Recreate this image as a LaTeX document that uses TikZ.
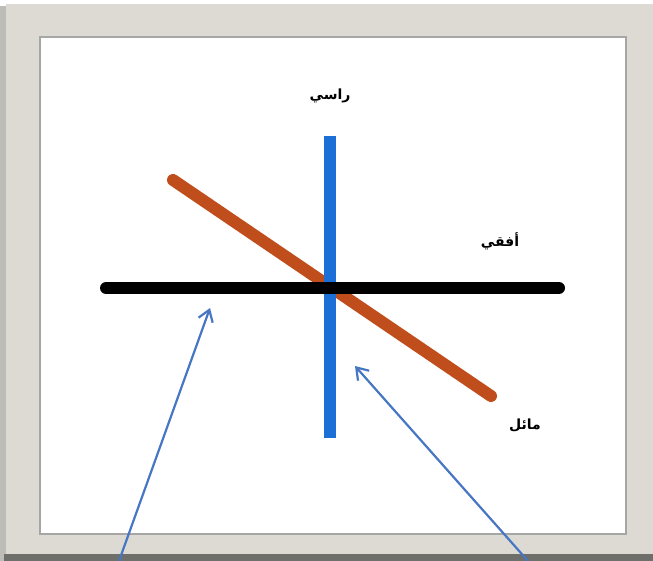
\documentclass[tikz,border=0pt]{standalone}
\usepackage{fontspec}
\usepackage{xcolor}
\usetikzlibrary{arrows.meta, positioning}
\newfontfamily\arabicfont[Script=Arabic]{DejaVu Sans}
\TeXXeTstate=1
\definecolor{framegray}{HTML}{DCDAD2}
\definecolor{frameshade}{HTML}{6E6E6A}
\definecolor{frameside}{HTML}{BDBDB8}
\definecolor{lineblue}{HTML}{1C6FD6}
\definecolor{lineorange}{HTML}{BF4E1C}
\definecolor{arrowblue}{HTML}{4676C4}

\begin{document}
\begin{tikzpicture}[x=1pt, y=-1pt,
  bar/.style={line width=12pt, line cap=round},
  lbl/.style={font=\arabicfont\bfseries\fontsize{14}{16}\selectfont, inner sep=1pt},
  arr/.style={-{Straight Barb[length=11pt, width=15pt, line width=2.2pt]}, line width=2.2pt, color=arrowblue},
]
\useasboundingbox (0,0) rectangle (653,561);
% frame
\fill[frameside] (0,6) rectangle (653,561);
\fill[frameshade] (4,554) rectangle (653,561);
\fill[framegray] (6,4) rectangle (653,554);
\fill[white, draw=gray!70, line width=1.5pt] (40,37) rectangle (626,534);

% lines
\coordinate (obl1) at (173,180);
\coordinate (obl2) at (491,396);
\coordinate (ver1) at (330,136);
\coordinate (ver2) at (330,438);
\coordinate (hor1) at (106,288);
\coordinate (hor2) at (559,288);
\draw[bar, lineorange] (obl1) -- (obl2);
\draw[bar, lineblue, line cap=butt] (ver1) -- (ver2);
\draw[bar, black] (hor1) -- (hor2);

% labels
\node[lbl] (vertical) at (330,96) {\beginR راسي\endR};
\node[lbl] (horizontal) at (500,241) {\beginR أفقي\endR};
\node[lbl] (oblique) at (525,425) {\beginR مائل\endR};

% arrows
\coordinate (tail1) at (119,561);
\coordinate (head1) at (210,308);
\coordinate (tail2) at (528,561);
\coordinate (head2) at (355,366);
\draw[arr] (tail1) -- (head1);
\draw[arr] (tail2) -- (head2);
\end{tikzpicture}
\end{document}
